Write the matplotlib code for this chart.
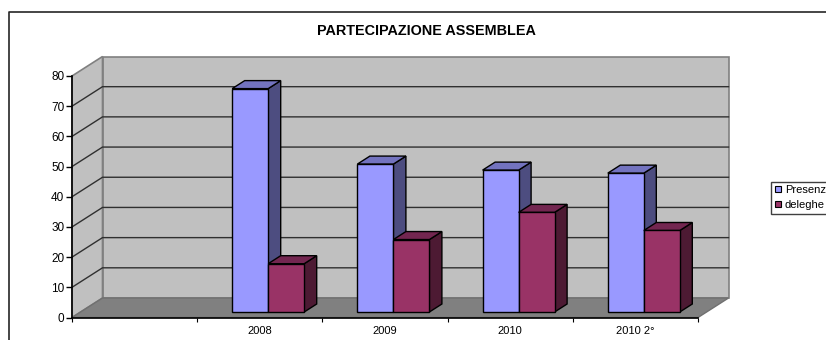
import matplotlib
matplotlib.use('Agg')
import matplotlib.pyplot as plt
from matplotlib.patches import Polygon
from matplotlib.lines import Line2D

plt.rcParams['font.family'] = ['Liberation Sans', 'DejaVu Sans']

# values
categories = ['', '2008', '2009', '2010', '2010 2°']
presenze = [74, 49, 47, 46]
deleghe = [16, 24, 33, 27]
yticks = [0, 10, 20, 30, 40, 50, 60, 70, 80]

W, H = 826, 340
fig = plt.figure(figsize=(W / 100, H / 100), dpi=100)

# front plane of the 3d box, in pixels
left, right, bottom, top = 72, 698, 317.5, 76
ax = fig.add_axes([left / W, 1 - bottom / H, (right - left) / W, (bottom - top) / H])
ax.set_xlim(0, 5)
ax.set_ylim(0, 80)
ax.patch.set_visible(False)

cat_px = (right - left) / 5
val_px = (bottom - top) / 80
depth_x = 30.5 / cat_px    # box depth
depth_y = 19.5 / val_px
bar_w = 36 / cat_px
bar_dx = 12.5 / cat_px     # bar depth
bar_dy = 8 / val_px
lift_y = 5.5 / val_px      # gap between box front and bar front


def poly(pts, fc, ec='black', lw=1.0, z=2):
    ax.add_patch(Polygon(pts, closed=True, facecolor=fc, edgecolor=ec, linewidth=lw,
                         zorder=z, clip_on=False, joinstyle='miter'))


# walls and floor
wall = '#C0C0C0'
poly([(depth_x, depth_y), (5 + depth_x, depth_y), (5 + depth_x, 80 + depth_y), (depth_x, 80 + depth_y)],
     wall, '#808080', 1.2, 1)
poly([(0, 0), (depth_x, depth_y), (depth_x, 80 + depth_y), (0, 80)], wall, '#808080', 1.2, 1)
poly([(0, 0), (5, 0), (5 + depth_x, depth_y), (depth_x, depth_y)], '#808080', '#707070', 1.0, 1.5)

# gridlines, side wall then back wall
for v in yticks[1:-1]:
    ax.plot([0, depth_x, 5 + depth_x], [v, v + depth_y, v + depth_y], color='#303030', lw=1.0,
            zorder=1.2, clip_on=False, solid_joinstyle='miter')


def bar3d(x, w, h, front, top_c, side, z):
    y0 = lift_y
    y1 = lift_y + h
    poly([(x + w, y0), (x + w + bar_dx, y0 + bar_dy), (x + w + bar_dx, y1 + bar_dy), (x + w, y1)], side, z=z)
    poly([(x, y1), (x + bar_dx, y1 + bar_dy), (x + w + bar_dx, y1 + bar_dy), (x + w, y1)], top_c, z=z)
    poly([(x, y0), (x + w, y0), (x + w, y1), (x, y1)], front, z=z)


for i in range(len(presenze)):
    start = i + 1 + 35 / cat_px
    bar3d(start, bar_w, presenze[i], '#9999FF', '#7373BF', '#4D4D80', 3 + i)
    bar3d(start + bar_w, bar_w, deleghe[i], '#993366', '#732650', '#4D1A33', 3.5 + i)

# axes
for s in ['top', 'right']:
    ax.spines[s].set_visible(False)
ax.spines['left'].set_bounds(0, 80)
for s in ['left', 'bottom']:
    ax.spines[s].set_linewidth(1.2)
    ax.spines[s].set_zorder(2)
ax.set_yticks(yticks)
ax.set_xticks(range(6))
ax.set_xticklabels([])
ax.set_xticks([i + 0.5 for i in range(5)], minor=True)
ax.set_xticklabels(categories, minor=True)
ax.tick_params(axis='x', which='major', length=3, width=0.8, direction='out')
ax.tick_params(axis='x', which='minor', length=0, pad=6, labelsize=8)
ax.tick_params(axis='y', length=4, width=1, pad=1.5, labelsize=8.5)

fig.text(426 / W, 1 - 31 / H, 'PARTECIPAZIONE ASSEMBLEA', ha='center', va='center',
         fontsize=10.4, fontweight='bold', color='black')

# legend runs off the right edge like the original
handles = [
    Line2D([], [], marker='s', ls='none', ms=4.5, mfc='#9999FF', mec='black', mew=0.8, label='Presenze'),
    Line2D([], [], marker='s', ls='none', ms=4.5, mfc='#993366', mec='black', mew=0.8, label='deleghe'),
]
leg = fig.legend(handles=handles, loc='upper left', bbox_to_anchor=(770.5 / W, 1 - 182 / H),
                 frameon=True, fancybox=False, framealpha=1, edgecolor='#404040', fontsize=8,
                 borderpad=0.3, labelspacing=0.45, handlelength=0.7, handletextpad=0.3,
                 borderaxespad=0)
leg.get_frame().set_linewidth(1.0)

# outer chart frame, cut by the image on the right and bottom
fig.add_artist(Line2D([9 / W, 9 / W, 1], [0, 1 - 11.5 / H, 1 - 11.5 / H], color='#262626', lw=1.2))

fig.savefig('out.png', dpi=100)
